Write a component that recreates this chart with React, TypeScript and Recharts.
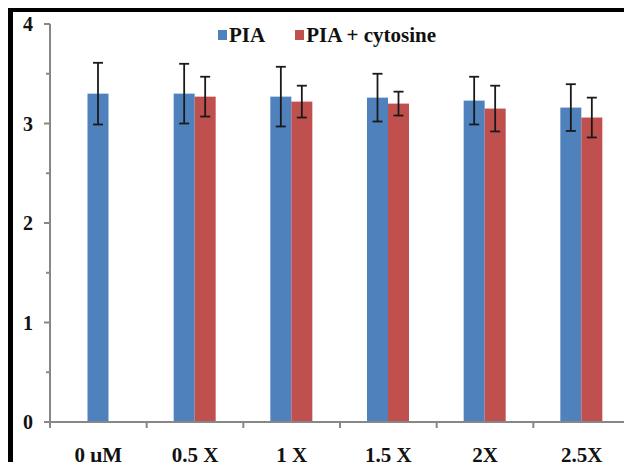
import React from 'react';
import { BarChart, Bar, XAxis, YAxis } from 'recharts';

const categories = ['0 μM', '0.5 X', '1 X', '1.5 X', '2X', '2.5X'];
const piaValues = [3.3, 3.3, 3.27, 3.26, 3.23, 3.16];
const piaErrors = [0.31, 0.3, 0.3, 0.24, 0.24, 0.235];
const cytoValues: (number | null)[] = [null, 3.27, 3.22, 3.2, 3.15, 3.06];
const cytoErrors: (number | null)[] = [null, 0.2, 0.16, 0.12, 0.23, 0.2];
const yTicks = [0, 0.5, 1, 1.5, 2, 2.5, 3, 3.5, 4];
const seriesNames = ['PIA', 'PIA + cytosine'];
const seriesColors = ['#4F81BD', '#C0504D'];

const data = categories.map((c, i) => ({
  cat: c,
  pia: piaValues[i],
  piaErr: piaErrors[i],
  cyto: cytoValues[i],
  cytoErr: cytoErrors[i],
}));

const FONT = '"Liberation Serif", "Times New Roman", serif';
const AXIS_COLOR = '#878787';

const makeShape = (valKey: string, errKey: string, otherKey: string | null) => (props: any) => {
  const { x, y, width, height, fill, payload } = props;
  const v = payload[valKey];
  if (v == null || !height) return <g />;
  let bx = x;
  if (otherKey && payload[otherKey] == null) bx = x + width / 2;
  const pxPerUnit = height / v;
  const err = payload[errKey] ?? 0;
  const e = err * pxPerUnit;
  const cx = bx + width / 2;
  return (
    <g>
      <rect x={bx} y={y} width={width} height={height} fill={fill} />
      <g stroke="#1a1a1a" strokeWidth={1.8}>
        <line x1={cx} x2={cx} y1={y - e} y2={y + e} />
        <line x1={cx - 5} x2={cx + 5} y1={y - e} y2={y - e} />
        <line x1={cx - 5} x2={cx + 5} y1={y + e} y2={y + e} />
      </g>
    </g>
  );
};

const YTick = (props: any) => {
  const { x, y, payload } = props;
  const v = payload.value;
  const major = Number.isInteger(v);
  return (
    <g>
      <line x1={x - (major ? 6 : 4)} x2={x} y1={y} y2={y} stroke={AXIS_COLOR} strokeWidth={2} />
      {major && (
        <text x={x - 17} y={y} dy="0.35em" textAnchor="end" fontFamily={FONT} fontWeight="bold" fontSize={20} fill="#111">
          {v}
        </text>
      )}
    </g>
  );
};

const XTick = (props: any) => {
  const { x, y, payload, index } = props;
  const off = payload.offset || 0;
  return (
    <g>
      <line x1={x - off} x2={x - off} y1={y} y2={y + 6} stroke={AXIS_COLOR} strokeWidth={2} />
      {index === categories.length - 1 && (
        <line x1={x + off} x2={x + off} y1={y} y2={y + 6} stroke={AXIS_COLOR} strokeWidth={2} />
      )}
      <text x={x} y={y + 40} textAnchor="middle" fontFamily={FONT} fontWeight="bold" fontSize={21} fill="#111">
        {payload.value}
      </text>
    </g>
  );
};

const LegendBox = () => (
  <div style={{ position: 'absolute', left: 218, top: 23, display: 'flex', alignItems: 'center', fontFamily: FONT, fontWeight: 'bold', fontSize: 21, lineHeight: '24px', color: '#111', whiteSpace: 'nowrap' }}>
    {seriesNames.map((n, i) => (
      <div key={n} style={{ display: 'flex', alignItems: 'center', marginRight: i === 0 ? 30 : 0 }}>
        <span style={{ display: 'inline-block', width: 9, height: 10, background: seriesColors[i], marginRight: 2 }} />
        <span>{n}</span>
      </div>
    ))}
  </div>
);

export default function App() {
  return (
    <div style={{ position: 'relative', width: 632, height: 470, margin: -8, background: '#fff', overflow: 'hidden' }}>
      <div style={{ position: 'absolute', left: 8, top: 8, width: 640, height: 480, borderLeft: '5px solid #000', borderTop: '4px solid #000', boxSizing: 'border-box' }} />
      <div style={{ position: 'absolute', left: 0, top: 0 }}>
        <BarChart
          width={632}
          height={470}
          data={data}
          margin={{ top: 24, right: 2, bottom: 0, left: 0 }}
          barSize={21}
          barGap={0}
        >
          <XAxis
            dataKey="cat"
            tickSize={0}
            tickMargin={0}
            tickLine={false}
            axisLine={{ stroke: AXIS_COLOR, strokeWidth: 2 }}
            tick={<XTick />}
            interval={0}
            height={48}
          />
          <YAxis
            width={50}
            domain={[0, 4]}
            ticks={yTicks}
            interval={0}
            tickSize={0}
            tickMargin={0}
            tickLine={false}
            axisLine={{ stroke: AXIS_COLOR, strokeWidth: 2 }}
            tick={<YTick />}
          />
          <Bar dataKey="pia" name={seriesNames[0]} fill={seriesColors[0]} isAnimationActive={false} shape={makeShape('pia', 'piaErr', 'cyto')} />
          <Bar dataKey="cyto" name={seriesNames[1]} fill={seriesColors[1]} isAnimationActive={false} shape={makeShape('cyto', 'cytoErr', null)} />
        </BarChart>
      </div>
      <LegendBox />
    </div>
  );
}
